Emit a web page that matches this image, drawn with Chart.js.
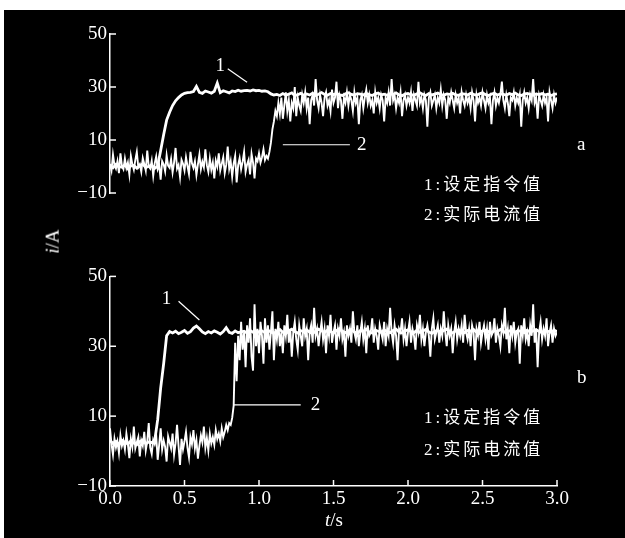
<!DOCTYPE html>
<html>
<head>
<meta charset="utf-8">
<script src="https://cdn.jsdelivr.net/npm/chart.js@4.4.1/dist/chart.umd.min.js"></script>
<style>
  html, body { margin: 0; padding: 0; background: #fff; width: 625px; height: 538px; overflow: hidden; }
  #bg { position: absolute; left: 4px; top: 10px; width: 621px; height: 528px; background: #000; }
  canvas { position: absolute; left: 0; }
  .txt { position: absolute; color: #fff; font-family: "Liberation Serif", serif; font-size: 19px; line-height: 19px; white-space: nowrap; }
  .cn { font-family: "Liberation Serif", "Noto Sans CJK SC", serif; font-size: 17px; letter-spacing: 3px; }
</style>
</head>
<body>
<div id="bg"></div>
<canvas id="topChart" width="625" height="262" style="top:0"></canvas>
<canvas id="botChart" width="625" height="276" style="top:262px"></canvas>

<div class="txt" style="left:577px;top:134px">a</div>
<div class="txt" style="left:577px;top:367px">b</div>
<div class="txt cn" style="left:424px;top:175px">1:设定指令值</div>
<div class="txt cn" style="left:424px;top:205px">2:实际电流值</div>
<div class="txt cn" style="left:424px;top:408px">1:设定指令值</div>
<div class="txt cn" style="left:424px;top:440px">2:实际电流值</div>
<div class="txt" style="left:325px;top:510px"><i>t</i>/s</div>
<div class="txt" style="left:40px;top:232px;transform:rotate(-90deg);transform-origin:center"><i>i</i>/A</div>

<script>
// sampling steps (s): setpoint traces and measured traces
var SET_STEP = 0.02;
var ACT_STEP = 0.01;

// y ticks (A) and x ticks (s)
var yTicks = [-10, 10, 30, 50];
var xTicks = [0.0, 0.5, 1.0, 1.5, 2.0, 2.5, 3.0];

// panel a: setpoint (curve 1), every 0.02 s
var setA = [
  0.5, -0.5, 0.8, 0, -0.3, 0.6, -0.8, 0.2, 0.4, -0.6, 0.3, 0.9, -0.4, 0.1, 0.5, -0.7, 0.2,
  6, 12, 17.5, 20.5, 23, 24.8, 26, 27, 27.6, 27.9,
  28.0, 28.3, 30.2, 28.0, 27.6, 28.5, 28.1, 27.7, 28.4, 31.5, 27.9, 28.6, 28.2, 27.8, 28.5,
  28.3, 28.8, 28.4, 28.6, 28.7, 28.5, 28.9, 28.6, 28.7, 28.4, 28.5, 28.2, 27.4, 27.0,
  27.2, 26.8, 27.5, 26.9, 27.3, 27.8, 26.7, 27.1, 27.6, 26.9,
  27.4, 27.0, 27.7, 26.8, 27.3, 27.9, 27.2, 26.9, 27.5, 27.1,
  27.6, 27.0, 26.8, 27.4, 27.8, 27.2, 26.9, 27.5, 27.3, 27.0,
  27.6, 27.1, 26.8, 27.4, 27.7, 27.0, 27.3, 26.9, 27.5, 27.2,
  27.8, 27.0, 26.7, 27.3, 27.6, 27.1, 26.9, 27.4, 27.8, 27.2,
  26.8, 27.5, 27.0, 27.3, 27.7, 27.1, 26.9, 27.4, 27.2, 27.6,
  27.0, 26.8, 27.5, 27.3, 27.0, 27.6, 27.2, 26.9, 27.4, 27.8,
  27.1, 26.8, 27.3, 27.6, 27.0, 27.4, 27.2, 26.9, 27.5, 27.1,
  27.7, 27.0, 26.8, 27.3, 27.6, 27.2, 26.9, 27.4, 27.1, 27.5,
  27.0, 27.3, 26.8, 27.2, 27.4
];

// panel a: measured current (curve 2), every 0.01 s
var actA = [
  1.0, -1.5, 4.5, 0.5, -0.8, 2.0, -2.5, 5.0, 0.2, -1.0,
  3.0, -0.5, 1.5, -3.0, 4.0, 0.8, -1.2, 2.5, 5.5, -0.3,
  0.8, -2.0, 3.2, 1.0, -1.5, 6.0, 0.0, -0.8, 2.2, -3.5,
  1.2, 3.8, -1.0, 0.5, -5.0, 2.0, 0.8, -1.8, 4.2, 0.3,
  -0.5, 2.8, -2.2, 1.5, 7.0, -0.8, 0.6, -4.0, 2.5, 1.0,
  -1.5, 3.5, 0.2, -2.8, 5.5, 1.2, -0.5, 2.0, -3.2, 0.8,
  4.5, -1.0, 1.8, -0.3, 6.5, 0.5, -2.0, 3.0, -1.2, 1.5,
  -4.5, 2.2, 0.0, 5.0, -1.5, 1.0, 3.5, -2.5, 0.6, 7.5,
  -0.8, 2.0, -3.8, 1.2, 4.0, -6.0, 0.5, 3.2, -1.0, 1.8,
  5.5, -2.0, 0.8, 2.5, -3.0, 4.8, 1.5, -4.5, 3.0, 2.0,
  5.0, 1.5, 3.5, 6.5, 2.5, 4.0, 3.0, 5.5, 9.0, 14.0,
  17, 21, 19, 24, 20, 26, 18, 23, 28, 21,
  25, 17, 24, 22, 30, 19, 26, 23, 21, 27,
  24, 28, 22, 26, 16, 25, 27, 23, 33, 25,
  22, 27, 24, 19, 26, 28, 23, 25, 21, 29,
  24, 26, 32, 22, 27, 25, 18, 26, 24, 28,
  23, 27, 25, 21, 28, 24, 26, 16, 25, 27,
  22, 26, 29, 24, 27, 23, 25, 20, 28, 24,
  26, 22, 27, 25, 17, 26, 24, 28, 23, 33,
  25, 27, 22, 26, 24, 28, 19, 25, 27, 23,
  26, 24, 28, 21, 27, 25, 23, 32, 24, 26,
  22, 27, 25, 15, 26, 28, 23, 25, 27, 22,
  26, 24, 29, 23, 27, 25, 18, 26, 24, 28,
  25, 22, 27, 24, 26, 20, 28, 25, 23, 27,
  24, 26, 22, 28, 25, 17, 27, 24, 26, 23,
  28, 25, 22, 27, 24, 26, 16, 25, 28, 23,
  26, 24, 27, 32, 25, 22, 27, 24, 19, 26,
  25, 28, 23, 26, 24, 27, 15, 25, 28, 24,
  26, 22, 27, 25, 33, 24, 26, 18, 27, 25,
  23, 27, 24, 26, 17, 28, 25, 22, 27, 24,
  26
];

// panel b: setpoint (curve 1), every 0.02 s
var setB = [
  3.0, 2.2, 2.8, 1.9, 3.1, 2.5, 2.0, 2.9, 2.3, 1.8, 2.7, 3.2, 2.1, 2.6, 2.4, 3.0,
  9, 18, 25, 33, 34.2,
  33.8, 34.3, 33.6, 34.0, 34.5, 33.7, 34.2, 35.2, 35.8, 35.0,
  34.1, 33.6, 34.2, 33.8, 34.4, 34.0, 33.5, 34.2, 35.3, 34.0,
  33.7, 34.4, 33.9, 34.1, 34.3, 33.8, 34.5, 34.0, 33.6, 34.2,
  34.4, 33.9, 34.6, 34.1, 33.7, 34.3, 34.8, 34.0, 33.6, 34.4,
  34.9, 34.2, 33.8, 34.5, 34.1, 34.7, 34.0, 33.7, 34.3, 34.9,
  34.4, 33.9, 34.6, 34.2, 33.8, 34.5, 35.0, 34.3, 33.9, 34.4,
  34.8, 34.1, 33.7, 34.5, 34.2, 34.9, 34.0, 33.8, 34.6, 34.3,
  34.0, 34.7, 34.2, 33.9, 34.5, 34.9, 34.1, 33.8, 34.4, 34.7,
  34.2, 33.9, 34.6, 34.0, 34.4, 34.8, 34.1, 33.7, 34.3, 34.6,
  34.0, 34.5, 34.9, 34.2, 33.8, 34.4, 34.7, 34.1, 33.9, 34.5,
  34.3, 34.8, 34.0, 33.7, 34.4, 34.6, 34.2, 33.9, 34.5, 34.1,
  34.8, 34.3, 33.8, 34.4, 34.7, 34.0, 34.5, 34.2, 33.9, 34.6,
  34.1, 34.4, 34.8, 34.2, 33.9, 34.5, 34.3, 34.0, 34.6, 34.2
];

// panel b: measured current (curve 2), every 0.01 s
var actB = [
  6.5, 2.0, -1.0, 3.5, 1.0, 2.8, -0.5, 4.5, 1.5, 3.0,
  0.5, 5.0, 2.0, -2.0, 3.5, 1.2, 7.0, 0.8, 2.5, 4.0,
  -1.5, 3.0, 1.5, 5.5, 0.2, 2.8, 8.0, 1.0, -0.8, 3.2,
  2.0, 4.5, -2.5, 1.8, 6.5, 0.5, 3.0, 1.2, -3.0, 4.2,
  2.5, 0.8, 5.0, -1.0, 2.2, 7.5, 1.5, -4.0, 3.5, 0.5,
  2.8, 5.5, 1.0, -1.8, 4.0, 2.0, 6.0, 0.8, 3.2, -2.2,
  1.5, 4.5, 2.5, 7.0, 1.0, 3.8, 0.2, 5.0, 2.2, 4.0,
  1.8, 6.0, 3.5, 5.0, 2.8, 6.5, 4.0, 5.5, 7.5, 6.0,
  8.0, 7.5, 9.5, 13.0, 31, 20, 33, 26, 37, 29,
  34, 24, 36, 31, 38, 27, 23, 42, 30, 35,
  28, 37, 33, 25, 38, 31, 36, 29, 34, 40,
  26, 35, 32, 37, 30, 34, 28, 36, 33, 39,
  31, 35, 27, 34, 37, 32, 29, 36, 33, 30,
  38, 33, 35, 26, 34, 36, 31, 41, 33, 35,
  30, 34, 37, 32, 35, 28, 36, 33, 39, 31,
  34, 36, 29, 35, 33, 38, 32, 34, 27, 36,
  33, 35, 31, 40, 34, 32, 36, 30, 34, 37,
  32, 35, 28, 36, 33, 34, 38, 31, 35, 33,
  29, 36, 34, 32, 37, 30, 35, 33, 41, 34,
  31, 36, 33, 26, 35, 34, 38, 32, 35, 30,
  34, 37, 31, 35, 33, 29, 36, 34, 39, 32,
  35, 30, 34, 36, 33, 27, 35, 38, 32, 34,
  36, 31, 35, 33, 40, 34, 30, 36, 33, 35,
  28, 34, 37, 32, 35, 33, 36, 31, 39, 34,
  32, 35, 30, 36, 34, 26, 35, 33, 37, 31,
  34, 36, 32, 35, 29, 37, 33, 34, 38, 31,
  35, 33, 30, 36, 34, 41, 32, 35, 28, 36,
  33, 37, 31, 34, 35, 25, 36, 33, 38, 32,
  34, 30, 36, 33, 42, 31, 35, 24, 34, 37,
  32, 35, 33, 38, 30, 34, 36, 31, 35, 33,
  34
];

// leader lines and curve numbers, in data units
var notesA = [
  { text: '1', x: 0.74, y: 37.8 },
  { line: [0.79, 36.9, 0.92, 31.8] },
  { line: [1.16, 8.2, 1.61, 8.2] },
  { text: '2', x: 1.69, y: 8.2 }
];
var notesB = [
  { text: '1', x: 0.38, y: 43.5 },
  { line: [0.46, 42.9, 0.60, 37.5] },
  { line: [0.83, 13.2, 1.28, 13.2] },
  { text: '2', x: 1.38, y: 13.2 }
];

function toPoints(vals, step) {
  return vals.map(function (v, i) { return { x: +(i * step).toFixed(2), y: v }; });
}

// inward tick marks + notes
var marks = {
  id: 'marks',
  afterDraw: function (chart, args, opts) {
    var ctx = chart.ctx, xs = chart.scales.x, ys = chart.scales.y, area = chart.chartArea;
    ctx.save();
    ctx.strokeStyle = '#fff';
    ctx.fillStyle = '#fff';
    ctx.lineWidth = 1.5;
    yTicks.forEach(function (v) {
      var py = ys.getPixelForValue(v);
      ctx.beginPath(); ctx.moveTo(area.left, py); ctx.lineTo(area.left + 6, py); ctx.stroke();
    });
    if (opts.xAxis) {
      xTicks.forEach(function (v) {
        var px = xs.getPixelForValue(v);
        ctx.beginPath(); ctx.moveTo(px, area.bottom); ctx.lineTo(px, area.bottom - 6); ctx.stroke();
      });
    }
    ctx.lineWidth = 1.2;
    ctx.font = '19px "Liberation Serif", serif';
    ctx.textAlign = 'center';
    ctx.textBaseline = 'middle';
    (opts.notes || []).forEach(function (n) {
      if (n.line) {
        ctx.beginPath();
        ctx.moveTo(xs.getPixelForValue(n.line[0]), ys.getPixelForValue(n.line[1]));
        ctx.lineTo(xs.getPixelForValue(n.line[2]), ys.getPixelForValue(n.line[3]));
        ctx.stroke();
      } else {
        ctx.fillText(n.text, xs.getPixelForValue(n.x), ys.getPixelForValue(n.y));
      }
    });
    ctx.restore();
  }
};

function makeChart(id, setVals, actVals, notes, showX, pad) {
  var ctx = document.getElementById(id).getContext('2d');
  return new Chart(ctx, {
    type: 'line',
    data: {
      datasets: [
        { label: '实际电流值', data: toPoints(actVals, ACT_STEP), borderColor: '#fff', borderWidth: 1.9, pointRadius: 0, tension: 0 },
        { label: '设定指令值', data: toPoints(setVals, SET_STEP), borderColor: '#fff', borderWidth: 2.8, pointRadius: 0, tension: 0 }
      ]
    },
    options: {
      responsive: false,
      animation: false,
      devicePixelRatio: 1,
      layout: { padding: pad },
      plugins: {
        legend: { display: false },
        tooltip: { enabled: false },
        marks: { notes: notes, xAxis: showX }
      },
      scales: {
        x: {
          type: 'linear',
          display: showX,
          min: 0, max: 3,
          grid: { display: true, drawOnChartArea: false, drawTicks: false },
          border: { display: true, color: '#fff', width: 1.5 },
          ticks: {
            stepSize: 0.5, color: '#fff', padding: 2, maxRotation: 0,
            font: { family: '"Liberation Serif", serif', size: 19 },
            callback: function (v) { return v.toFixed(1); }
          },
          afterFit: function (axis) { axis.height = 52; }
        },
        y: {
          min: -10, max: 50,
          grid: { display: true, drawOnChartArea: false, drawTicks: false },
          border: { display: true, color: '#fff', width: 1.5 },
          ticks: {
            stepSize: 20, color: '#fff', padding: 3,
            font: { family: '"Liberation Serif", serif', size: 19 },
            callback: function (v) { return String(v).replace('-', '\u2212'); }
          },
          afterFit: function (axis) { axis.width = 110; }
        }
      }
    },
    plugins: [marks]
  });
}

makeChart('topChart', setA, actA, notesA, false, { left: 0, right: 68, top: 34, bottom: 17 });
makeChart('botChart', setB, actB, notesB, true, { left: 0, right: 68, top: 12, bottom: 0 });
</script>
</body>
</html>
